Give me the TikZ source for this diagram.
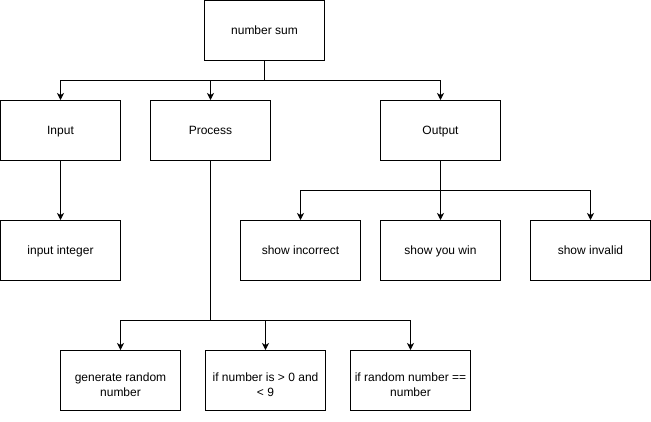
\documentclass[tikz,border=0pt]{standalone}
\usepackage{fontspec}
\setmainfont{Liberation Sans}
\usetikzlibrary{arrows.meta}
\newcommand\firstln{\rule{0pt}{17.4pt}}
\begin{document}
\begin{tikzpicture}[x=1pt,y=-1pt,
  box/.style={draw,line width=1pt,minimum width=120pt,minimum height=60pt,inner sep=0pt,
    align=center,font=\fontsize{12}{15}\selectfont},
  one/.style={box,text height=7.6pt,text depth=0pt},
  conn/.style={line width=1pt,-{Stealth[length=7pt,width=7pt,inset=2pt]}}]
\useasboundingbox (0,0) rectangle (651,421);
\node[one] (ns) at (264.5,30.5) {number sum};
\node[one] (in) at (60.5,130.5) {Input};
\node[one] (pr) at (210.5,130.5) {Process};
\node[one] (out) at (440.5,130.5) {Output};
\node[one] (ii) at (60.5,250.5) {input integer};
\node[one] (si) at (300.5,250.5) {show incorrect};
\node[one] (sw) at (440.5,250.5) {show you win};
\node[one] (sv) at (590.5,250.5) {show invalid};
\node[box] (g) at (120.5,380.5) {\firstln generate random\\number};
\node[box] (c1) at (265.5,380.5) {\firstln if number is \textgreater{} 0 and\\\textless{} 9};
\node[box] (c2) at (410.5,380.5) {\firstln if random number ==\\number};
\coordinate (j1) at (264.5,80.5);
\coordinate (j2) at (440.5,190.5);
\coordinate (j3) at (210.5,320.5);
\draw[conn] (ns.south) -- (j1) -| (in.north);
\draw[conn] (j1) -| (pr.north);
\draw[conn] (j1) -| (out.north);
\draw[conn] (in.south) -- (ii.north);
\draw[conn] (out.south) -- (j2) -| (si.north);
\draw[conn] (j2) -- (sw.north);
\draw[conn] (j2) -| (sv.north);
\draw[conn] (pr.south) -- (j3) -| (g.north);
\draw[conn] (j3) -| (c1.north);
\draw[conn] (j3) -| (c2.north);
\end{tikzpicture}
\end{document}
